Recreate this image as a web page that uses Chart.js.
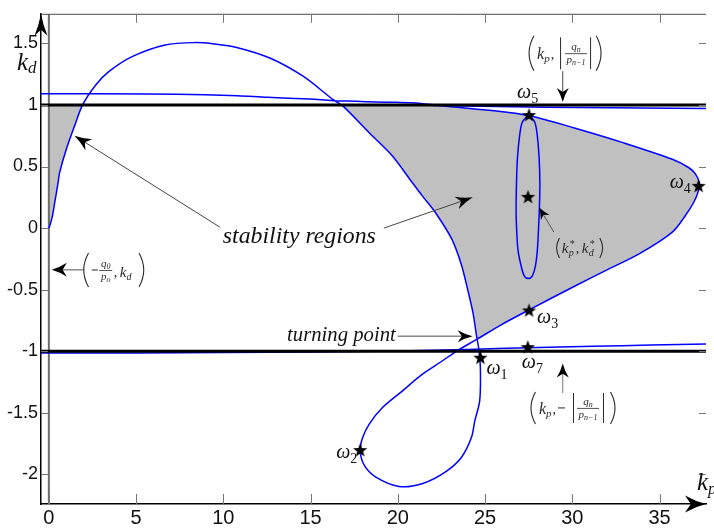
<!DOCTYPE html>
<html>
<head>
<meta charset="utf-8">
<title>Stability regions in the (kp, kd) plane</title>
<script src="https://cdn.jsdelivr.net/npm/chart.js@4.4.1/dist/chart.umd.min.js"></script>
<style>
  html, body { margin: 0; padding: 0; background: #fff; }
  canvas { display: block; background: #fff; }
</style>
</head>
<body>
<canvas id="plot" width="714" height="528"></canvas>
<script>
// ---- axis ranges and ticks ----
const kpTicks = [0, 5, 10, 15, 20, 25, 30, 35];
const kdTicks = [-2, -1.5, -1, -0.5, 0, 0.5, 1, 1.5];
const kpRange = [-0.45, 37.66];
const kdRange = [-2.24, 1.74];

// ---- stability boundary curve, traced from the origin ----
const boundaryKp = [
  0.00, 0.06, 0.21, 0.34, 0.53, 0.62, 1.00, 1.47, 1.94, 2.70,
  3.45, 4.77, 6.66, 8.36, 9.50, 10.82, 12.70, 14.59, 16.29, 16.86,
  18.36, 19.69, 20.82, 21.39, 22.14, 23.08, 23.65, 24.03, 24.31, 24.50,
  24.63, 24.73, 24.69, 24.41, 24.22, 23.65, 22.71, 21.39, 20.06, 18.74,
  18.08, 17.84, 17.99, 18.36, 19.12, 20.25, 21.39, 22.52, 23.35, 24.59,
  25.92, 27.52, 30.07, 31.96, 33.85, 35.73, 36.48, 36.96, 37.22, 37.27,
  37.05, 36.68, 35.73, 32.90, 30.07, 27.52, 26.27, 24.41, 22.71, 21.01,
  19.88, 18.74, 17.61, 16.31, 14.95, 12.51, 10.82, 8.95, 5.72, -0.45
];
const boundaryKd = [
  0.000, 0.022, 0.102, 0.210, 0.371, 0.452, 0.640, 0.828, 1.002, 1.164,
  1.272, 1.392, 1.487, 1.506, 1.495, 1.465, 1.379, 1.231, 1.043, 0.990,
  0.774, 0.586, 0.371, 0.264, 0.129, -0.086, -0.301, -0.516, -0.690, -0.866,
  -0.973, -1.135, -1.403, -1.565, -1.699, -1.860, -1.981, -2.075, -2.097, -2.022,
  -1.927, -1.806, -1.699, -1.591, -1.457, -1.323, -1.188, -1.081, -1.000, -0.898,
  -0.785, -0.664, -0.476, -0.341, -0.207, -0.032, 0.102, 0.210, 0.300, 0.370,
  0.440, 0.490, 0.559, 0.694, 0.815, 0.914, 0.941, 0.968, 0.990, 1.016,
  1.021, 1.024, 1.030, 1.035, 1.048, 1.062, 1.075, 1.083, 1.089, 1.091
];

// inner closed curve around (kp*, kd*)
const innerKp = [27.50, 27.85, 28.00, 28.10, 28.14, 28.12, 28.08, 28.00, 27.88, 27.70, 27.48,
                 27.25, 27.07, 26.88, 26.79, 26.78, 26.80, 26.85, 26.97, 27.13, 27.50];
const innerKd = [0.920, 0.860, 0.740, 0.560, 0.370, 0.200, 0.050, -0.170, -0.310, -0.390, -0.410,
                 -0.390, -0.310, -0.170, 0.050, 0.200, 0.370, 0.560, 0.740, 0.860, 0.920];

// curves running along kd = +1 and kd = -1
const upperKp = [22.0, 28.5, 37.66];
const upperKd = [0.995, 0.982, 0.972];
const lowerKp = [-0.45, 5, 10, 15.3, 20, 24, 27.42, 31.2, 34.5, 37.66];
const lowerKd = [-1.014, -1.013, -1.010, -1.006, -0.998, -0.985, -0.971, -0.960, -0.950, -0.940];

// kd = +|qn/pn-1| and kd = -|qn/pn-1|
const kdLimits = [1, -1];

// marked frequencies
const omegaIds = ['1', '2', '3', '4', '5', '7'];
const omegaKp = [24.73, 17.84, 27.52, 37.24, 27.52, 27.45];
const omegaKd = [-1.056, -1.806, -0.672, 0.339, 0.914, -0.970];

// chosen gains (kp*, kd*)
const chosenKp = [27.46];
const chosenKd = [0.25];

// ---- helpers ----
const SERIF = "'Liberation Serif', 'DejaVu Serif', serif";
const SANS = "'Liberation Sans Narrow', 'Liberation Sans', Arial, sans-serif";
const pts = (xs, ys) => xs.map((x, i) => ({x, y: ys[i]}));
const cap = p => ({x: p.x, y: Math.min(p.y, kdLimits[0])});

function starImage(R, r) {
  const c = document.createElement('canvas');
  const s = Math.ceil(2 * R + 2);
  c.width = c.height = s;
  const g = c.getContext('2d');
  g.fillStyle = '#000';
  g.beginPath();
  for (let k = 0; k < 10; k++) {
    const a = -Math.PI / 2 + k * Math.PI / 5;
    const rad = k % 2 ? r : R;
    g.lineTo(s / 2 + rad * Math.cos(a), s / 2 + rad * Math.sin(a));
  }
  g.closePath();
  g.fill();
  return c;
}
const star = starImage(7.5, 3.1);

// ---- shaded stability regions built from the boundary ----
const boundary = pts(boundaryKp, boundaryKd);
const iUp = boundaryKd.findIndex(v => v >= kdLimits[0]);
const leftLobe = [{x: 0, y: kdLimits[0]}, {x: 0, y: 0}, ...boundary.slice(1, iUp + 1).map(cap)];

const iPeak = boundaryKd.indexOf(Math.max(...boundaryKd));
const iDesc = boundaryKd.findIndex((v, i) => i > iPeak && v < kdLimits[0]);
const iTurn = boundaryKd.findIndex((v, i) => i > iDesc && v < -0.85);
const iLow = boundaryKp.findIndex((v, i) => i > iTurn && v > 25);
const iTop = boundaryKd.findIndex((v, i) => i > iLow && v >= kdLimits[0]);
const iTip = boundaryKp.indexOf(Math.max(...boundaryKp));
const corner = {x: boundaryKp[iDesc - 1], y: kdLimits[0]};
const mainRegion = [
  corner,
  ...boundary.slice(iDesc, iTurn + 1),
  ...boundary.slice(iLow - 1, iTop + 1).map(cap),
  corner,
  boundary[iTip]
];

const regionStyle = {
  showLine: true, fill: 'shape', backgroundColor: '#c0c0c0',
  borderColor: 'rgba(0,0,0,0)', borderWidth: 0, pointRadius: 0, tension: 0, order: 10
};
const blueLine = {
  showLine: true, fill: false, borderColor: '#0000ff', borderWidth: 1.5,
  pointRadius: 0, tension: 0.3, order: 6
};

// ---- drawing helpers for labels and arrows ----
function arrowTo(ctx, x0, y0, x1, y1, o) {
  const len = o.len || 14, wid = o.wid || 5;
  const d = Math.hypot(x1 - x0, y1 - y0), ux = (x1 - x0) / d, uy = (y1 - y0) / d;
  const nx = -uy, ny = ux;
  if (o.shaft !== false) {
    ctx.strokeStyle = o.line || '#333';
    ctx.lineWidth = o.lw || 1;
    ctx.beginPath();
    ctx.moveTo(x0, y0);
    ctx.lineTo(x1 - ux * len * 0.6, y1 - uy * len * 0.6);
    ctx.stroke();
  }
  const bx = x1 - ux * len, by = y1 - uy * len;
  ctx.fillStyle = o.head || '#000';
  ctx.beginPath();
  ctx.moveTo(x1, y1);
  ctx.quadraticCurveTo(x1 - ux * len * 0.5 + nx * wid * 0.3, y1 - uy * len * 0.5 + ny * wid * 0.3, bx + nx * wid, by + ny * wid);
  ctx.lineTo(x1 - ux * len * 0.72, y1 - uy * len * 0.72);
  ctx.lineTo(bx - nx * wid, by - ny * wid);
  ctx.quadraticCurveTo(x1 - ux * len * 0.5 - nx * wid * 0.3, y1 - uy * len * 0.5 - ny * wid * 0.3, x1, y1);
  ctx.closePath();
  ctx.fill();
}

function fitText(ctx, s, x, y, w, font, color) {
  ctx.font = font;
  ctx.fillStyle = color;
  const m = ctx.measureText(s).width;
  ctx.save();
  ctx.translate(x, y);
  ctx.scale(w / m, 1);
  ctx.fillText(s, 0, 0);
  ctx.restore();
}

function subText(ctx, base, s, x, y, bf, sf, dy) {
  ctx.font = bf;
  ctx.fillText(base, x, y);
  const w = ctx.measureText(base).width;
  ctx.font = sf;
  ctx.fillText(s, x + w, y + dy);
  return x + w + ctx.measureText(s).width;
}

function centeredSub(ctx, base, s, cx, y, bf, sf, dy) {
  ctx.font = bf;
  const w1 = ctx.measureText(base).width;
  ctx.font = sf;
  const w2 = ctx.measureText(s).width;
  subText(ctx, base, s, cx - (w1 + w2) / 2, y, bf, sf, dy);
}

function frac(ctx, cx, cy, n, ns, d, ds, w) {
  centeredSub(ctx, n, ns, cx, cy - 3, `italic 11px ${SERIF}`, `italic 8px ${SERIF}`, 2);
  ctx.fillRect(cx - w / 2, cy, w, 0.8);
  centeredSub(ctx, d, ds, cx, cy + 10, `italic 11px ${SERIF}`, `italic 8px ${SERIF}`, 2);
}

function paren(ctx, x, cy, h, open) {
  const s = open ? 1 : -1, w = h * 0.14;
  ctx.beginPath();
  ctx.moveTo(x + s * w, cy - h / 2);
  ctx.quadraticCurveTo(x - s * w, cy, x + s * w, cy + h / 2);
  ctx.stroke();
}

function vbar(ctx, x, cy, h) {
  ctx.fillRect(x, cy - h / 2, 1, h);
}

function kpPair(ctx, x, y) {
  const e = subText(ctx, 'k', 'p', x, y, `italic 16px ${SERIF}`, `italic 11px ${SERIF}`, 3);
  ctx.font = `14px ${SERIF}`;
  ctx.fillText(',', e + 1, y);
}

// ---- annotation plugin ----
const decor = {
  id: 'decor',
  afterDraw(chart) {
    const {ctx, chartArea: a, scales: {x, y}} = chart;
    const X = v => x.getPixelForValue(v), Y = v => y.getPixelForValue(v);
    ctx.save();
    ctx.textAlign = 'left';
    ctx.textBaseline = 'alphabetic';

    // frame line on top
    ctx.strokeStyle = '#4a4a4a';
    ctx.lineWidth = 1;
    ctx.beginPath();
    ctx.moveTo(a.left, a.top + 0.5);
    ctx.lineTo(a.right, a.top + 0.5);
    ctx.stroke();

    // inward tick marks on all sides
    ctx.strokeStyle = '#777';
    ctx.lineWidth = 1;
    ctx.beginPath();
    kpTicks.forEach(v => {
      const px = Math.round(X(v)) + 0.5;
      ctx.moveTo(px, a.bottom); ctx.lineTo(px, a.bottom - 10);
      ctx.moveTo(px, a.top); ctx.lineTo(px, a.top + 9);
    });
    kdTicks.forEach(v => {
      const py = Math.round(Y(v)) + 0.5;
      ctx.moveTo(a.left, py); ctx.lineTo(a.left + 7, py);
      ctx.moveTo(a.right, py); ctx.lineTo(a.right - 7, py);
    });
    ctx.stroke();

    // axis arrows
    arrowTo(ctx, a.left, a.top + 40, a.left, a.top, {len: 22, wid: 6.5, shaft: false});
    arrowTo(ctx, a.right - 40, a.bottom, a.right, a.bottom, {len: 21, wid: 8.5, shaft: false});

    // axis names
    ctx.fillStyle = '#111';
    subText(ctx, 'k', 'd', 17, 70, `italic 25px ${SERIF}`, `italic 17px ${SERIF}`, 3);
    subText(ctx, 'k', 'p', 697, 490, `italic 25px ${SERIF}`, `italic 17px ${SERIF}`, 4);

    // region callouts
    fitText(ctx, 'stability regions', X(9.97), Y(-0.121), X(18.74) - X(9.97), `italic 24px ${SERIF}`, '#111');
    arrowTo(ctx, X(9.80), Y(0.008), X(1.47), Y(0.75), {line: '#444', lw: 1, len: 17, wid: 6.5});
    arrowTo(ctx, X(19.2), Y(0.0), X(24.29), Y(0.25), {line: '#444', lw: 1, len: 17, wid: 6.5});

    fitText(ctx, 'turning point', X(13.65), Y(-0.919), X(19.88) - X(13.65), `italic 20px ${SERIF}`, '#111');
    arrowTo(ctx, X(19.99), Y(-0.879), X(24.29), Y(-0.879), {line: '#888', lw: 1.5, len: 15, wid: 6});

    // frequency labels next to the stars
    const offs = {'1': [6, 16], '2': [-24, 7], '3': [8, 12], '4': [-29, 2], '5': [-12, -18], '7': [-6, 20]};
    ctx.fillStyle = '#111';
    omegaIds.forEach((id, i) => {
      const [dx, dy] = offs[id];
      subText(ctx, 'ω', id, X(omegaKp[i]) + dx, Y(omegaKd[i]) + dy,
        `italic 20px ${SERIF}`, `14px ${SERIF}`, 5);
    });

    // math callouts
    ctx.fillStyle = '#2a2a2a';
    ctx.strokeStyle = '#2a2a2a';
    ctx.lineWidth = 1.1;

    // ( -q0/po , kd )
    {
      const ax = X(2.0), ay = Y(-0.34);
      paren(ctx, ax, ay, 34, true);
      ctx.fillRect(ax + 8, ay - 0.5, 6, 1);
      frac(ctx, ax + 22, ay, 'q', '0', 'p', 'o', 13);
      ctx.font = `14px ${SERIF}`;
      ctx.fillText(',', ax + 30, ay + 7);
      subText(ctx, 'k', 'd', ax + 36, ay + 7, `italic 15px ${SERIF}`, `italic 10px ${SERIF}`, 3);
      paren(ctx, ax + 60, ay, 34, false);
      arrowTo(ctx, X(2.04), Y(-0.339), X(0.17), Y(-0.339), {line: '#555', lw: 1, len: 15, wid: 7});
      ctx.strokeStyle = '#2a2a2a'; ctx.fillStyle = '#2a2a2a'; ctx.lineWidth = 1.1;
    }

    // ( kp , |qn/pn-1| )
    {
      const ax = X(27.52), ay = Y(1.419);
      paren(ctx, ax, ay, 35, true);
      kpPair(ctx, ax + 8, ay + 6);
      vbar(ctx, ax + 31, ay, 32);
      frac(ctx, ax + 47, ay, 'q', 'n', 'p', 'n−1', 22);
      vbar(ctx, ax + 61, ay, 32);
      paren(ctx, ax + 72, ay, 35, false);
      arrowTo(ctx, X(29.45), Y(1.274), X(29.45), Y(1.024), {line: '#444', lw: 1, len: 14, wid: 6});
      ctx.strokeStyle = '#2a2a2a'; ctx.fillStyle = '#2a2a2a'; ctx.lineWidth = 1.1;
    }

    // ( kp* , kd* )
    {
      const ax = X(29.1), ay = Y(-0.161);
      paren(ctx, ax, ay, 20, true);
      ctx.font = `italic 15px ${SERIF}`; ctx.fillText('k', ax + 5, ay + 5);
      ctx.font = `10px ${SERIF}`; ctx.fillText('*', ax + 13, ay - 1);
      ctx.font = `italic 10px ${SERIF}`; ctx.fillText('p', ax + 12, ay + 8);
      ctx.font = `14px ${SERIF}`; ctx.fillText(',', ax + 19, ay + 5);
      ctx.font = `italic 15px ${SERIF}`; ctx.fillText('k', ax + 25, ay + 5);
      ctx.font = `10px ${SERIF}`; ctx.fillText('*', ax + 33, ay - 1);
      ctx.font = `italic 10px ${SERIF}`; ctx.fillText('d', ax + 32, ay + 8);
      paren(ctx, ax + 46, ay, 20, false);
      arrowTo(ctx, X(28.94), Y(-0.032), X(28.09), Y(0.169), {line: '#555', lw: 1, len: 12, wid: 5});
      ctx.strokeStyle = '#2a2a2a'; ctx.fillStyle = '#2a2a2a'; ctx.lineWidth = 1.1;
    }

    // ( kp , -|qn/pn-1| )
    {
      const ax = X(27.63), ay = Y(-1.46);
      paren(ctx, ax, ay, 32, true);
      kpPair(ctx, ax + 8, ay + 6);
      ctx.fillRect(ax + 27, ay - 0.5, 7, 1);
      vbar(ctx, ax + 42, ay, 30);
      frac(ctx, ax + 57, ay, 'q', 'n', 'p', 'n−1', 22);
      vbar(ctx, ax + 72, ay, 30);
      paren(ctx, ax + 84, ay, 32, false);
      arrowTo(ctx, X(29.45), Y(-1.339), X(29.45), Y(-1.10), {line: '#777', lw: 1, len: 14, wid: 6});
    }

    ctx.restore();
  }
};

// ---- chart ----
new Chart(document.getElementById('plot'), {
  type: 'scatter',
  data: {
    datasets: [
      {label: 'left region', data: leftLobe, ...regionStyle},
      {label: 'main region', data: mainRegion, ...regionStyle},
      {label: 'kp = 0', data: [{x: 0, y: kdRange[0]}, {x: 0, y: kdRange[1]}],
        showLine: true, borderColor: '#6e6e6e', borderWidth: 2, pointRadius: 0, order: 8},
      {label: 'boundary', data: boundary, ...blueLine},
      {label: 'inner curve', data: pts(innerKp, innerKd), ...blueLine},
      {label: 'upper curve', data: pts(upperKp, upperKd), ...blueLine, tension: 0},
      {label: 'lower curve', data: pts(lowerKp, lowerKd), ...blueLine},
      ...kdLimits.map(v => ({
        label: 'kd = ' + v, data: [{x: kpRange[0], y: v}, {x: kpRange[1], y: v}],
        showLine: true, borderColor: '#000', borderWidth: 3, pointRadius: 0, order: 4
      })),
      {label: 'omega', data: pts(omegaKp, omegaKd), showLine: false, pointStyle: star, pointRadius: 7, order: 1},
      {label: 'chosen', data: pts(chosenKp, chosenKd), showLine: false, pointStyle: star, pointRadius: 7, order: 1}
    ]
  },
  options: {
    responsive: false,
    animation: false,
    devicePixelRatio: 1,
    events: [],
    layout: {padding: {top: 10, left: 0, right: 0, bottom: 0}},
    plugins: {legend: {display: false}, tooltip: {enabled: false}},
    scales: {
      x: {
        type: 'linear', min: kpRange[0], max: kpRange[1],
        afterBuildTicks: s => { s.ticks = kpTicks.map(v => ({value: v})); },
        afterFit: s => { s.height = 24; },
        grid: {display: false, drawTicks: false},
        border: {display: true, color: '#000', width: 1.5},
        ticks: {padding: 2, autoSkip: false, maxRotation: 0, color: '#111',
          font: {family: SANS, size: 20}, callback: v => String(v)}
      },
      y: {
        type: 'linear', min: kdRange[0], max: kdRange[1],
        afterBuildTicks: s => { s.ticks = kdTicks.map(v => ({value: v})); },
        afterFit: s => { s.width = 41; },
        grid: {display: false, drawTicks: false},
        border: {display: true, color: '#000', width: 1.5},
        ticks: {padding: 3, autoSkip: false, color: '#111',
          font: {family: SANS, size: 18}, callback: v => String(v)}
      }
    }
  },
  plugins: [decor]
});
</script>
</body>
</html>
